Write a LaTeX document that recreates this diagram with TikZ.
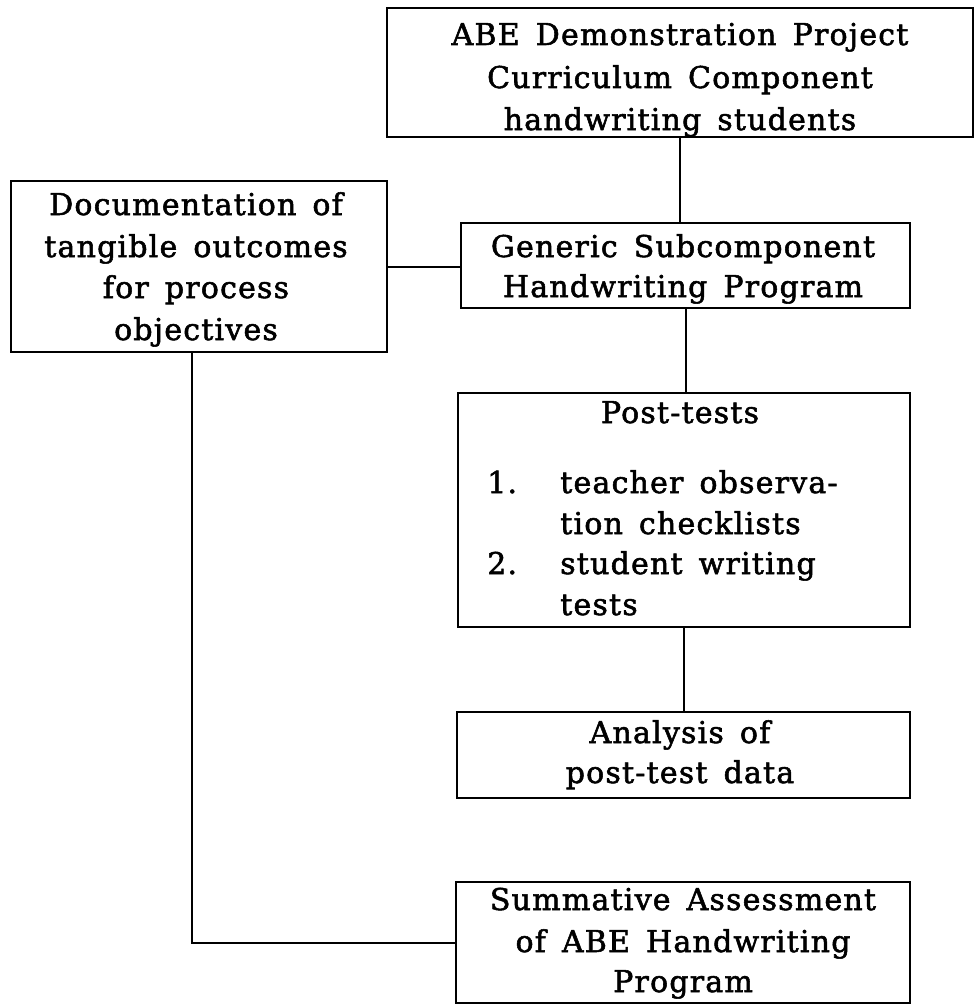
\documentclass[tikz,border=0pt]{standalone}
\usepackage{fontspec}
\setmainfont{DejaVu Serif}[LetterSpace=4, WordSpace=1.5, FakeBold=1.8]
\usetikzlibrary{fit}
\begin{document}
\begin{tikzpicture}[x=0.75pt,y=-0.75pt,
  box/.style={draw=black, line width=2pt, rectangle, inner sep=0pt},
  link/.style={draw=black, line width=1.5pt},
  txt/.style={anchor=base, inner sep=0pt, font=\fontsize{22.5}{27}\selectfont},
  txtl/.style={txt, anchor=base west}]
\useasboundingbox[fill=white] (0,0) rectangle (975,1006);

% frames
\node[box, fit={(387,8) (973,137)}]   (top)  {};
\node[box, fit={(11,181) (387,352)}]  (doc)  {};
\node[box, fit={(461,223) (910,308)}] (gen)  {};
\node[box, fit={(458,393) (910,627)}] (post) {};
\node[box, fit={(457,712) (910,798)}] (ana)  {};
\node[box, fit={(456,882) (910,1003)}] (sum) {};

% labels
\node[txt] (top1) at (680,45)  {ABE Demonstration Project};
\node[txt] (top2) at (680,88)  {Curriculum Component};
\node[txt] (top3) at (680,130) {handwriting students};

\node[txt] (doc1) at (196,215) {Documentation of};
\node[txt] (doc2) at (196,257) {tangible outcomes};
\node[txt] (doc3) at (196,298) {for process};
\node[txt] (doc4) at (196,340) {objectives};

\node[txt] (gen1) at (683,257) {Generic Subcomponent};
\node[txt] (gen2) at (683,297) {Handwriting Program};

\node[txt]  (post0) at (680,423) {Post-tests};
\node[txtl] (n1)    at (487,493) {1.};
\node[txtl] (post1) at (560,493) {teacher observa-};
\node[txtl] (post2) at (560,534) {tion checklists};
\node[txtl] (n2)    at (487,574) {2.};
\node[txtl] (post3) at (560,574) {student writing};
\node[txtl] (post4) at (560,615) {tests};

\node[txt] (ana1) at (680,743) {Analysis of};
\node[txt] (ana2) at (680,783) {post-test data};

\node[txt] (sum1) at (683,910) {Summative Assessment};
\node[txt] (sum2) at (683,952) {of ABE Handwriting};
\node[txt] (sum3) at (683,992) {Program};

% connectors
\draw[link] (top.south) -- (top.south |- gen.north);
\draw[link] (doc.east) -- (doc.east -| gen.west);
\draw[link] (gen.south) -- (gen.south |- post.north);
\draw[link] (post.south) -- (post.south |- ana.north);
\draw[link] ([xshift=-5pt]doc.south) |- (sum.west);
\end{tikzpicture}
\end{document}
